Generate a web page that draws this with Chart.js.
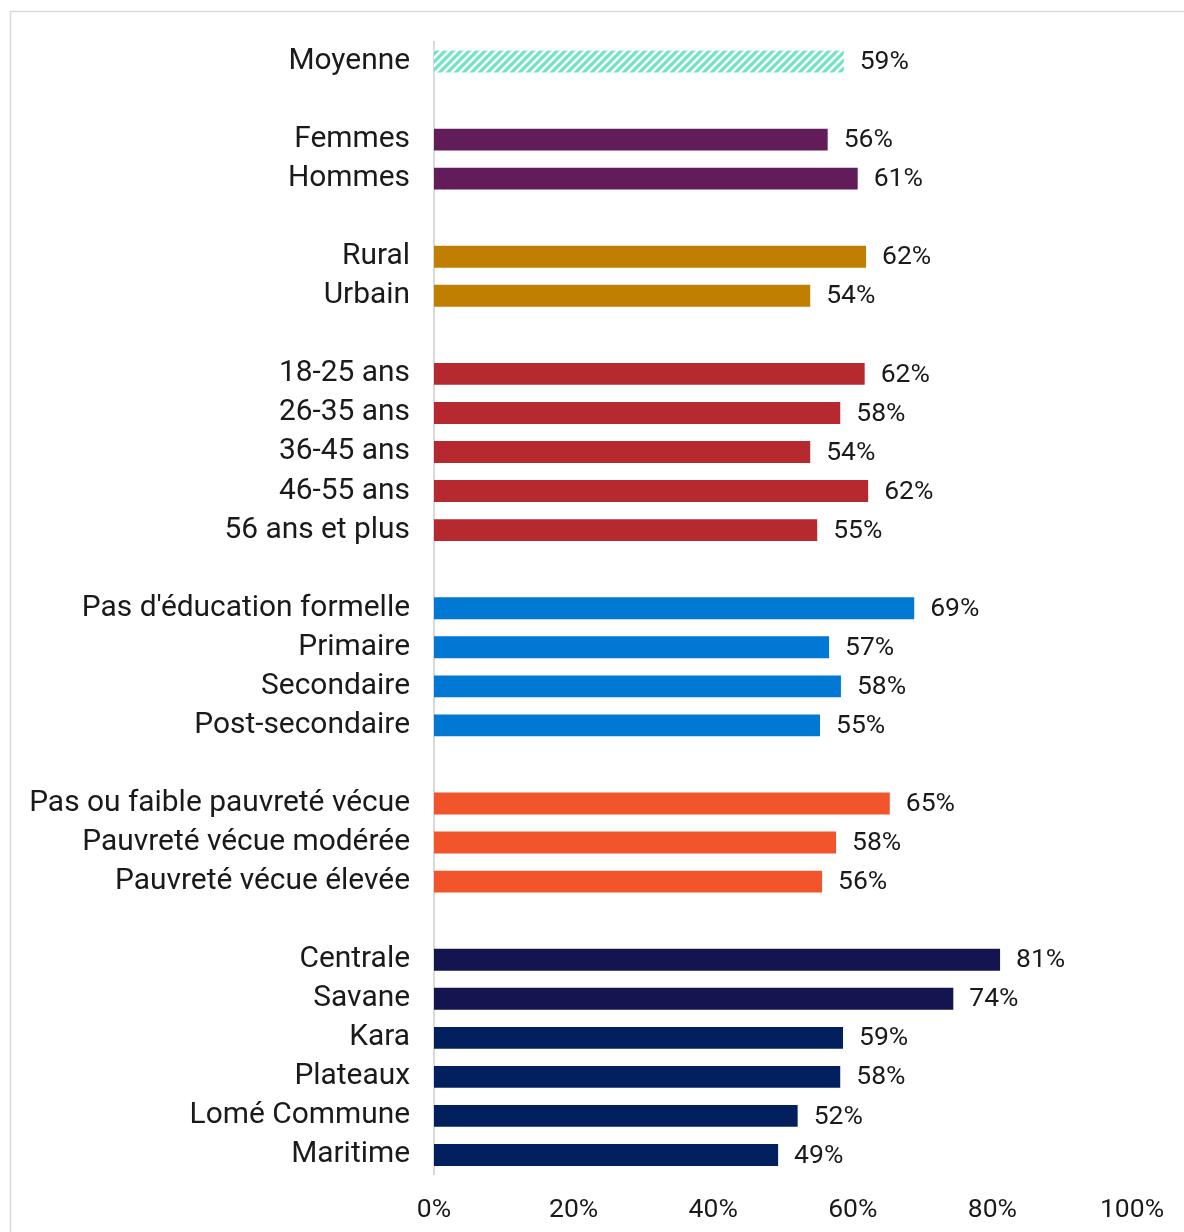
<!DOCTYPE html>
<html>
<head>
<meta charset="utf-8">
<script src="https://cdn.jsdelivr.net/npm/chart.js@4.4.1/dist/chart.umd.min.js"></script>
<style>
  html, body { margin: 0; padding: 0; background: #ffffff; }
  #wrap { position: absolute; left: 0; top: 0; width: 1184px; height: 1232px; }
</style>
</head>
<body>
<div id="wrap"><canvas id="c" width="1184" height="1232"></canvas></div>
<script>
// ---- Data ----
const categories = [
  'Moyenne', '',
  'Femmes', 'Hommes', '',
  'Rural', 'Urbain', '',
  '18-25 ans', '26-35 ans', '36-45 ans', '46-55 ans', '56 ans et plus', '',
  "Pas d'éducation formelle", 'Primaire', 'Secondaire', 'Post-secondaire', '',
  'Pas ou faible pauvreté vécue', 'Pauvreté vécue modérée', 'Pauvreté vécue élevée', '',
  'Centrale', 'Savane', 'Kara', 'Plateaux', 'Lomé Commune', 'Maritime'
];
const values = [
  58.7, null,
  56.4, 60.7, null,
  61.9, 53.9, null,
  61.7, 58.2, 53.9, 62.2, 54.9, null,
  68.8, 56.6, 58.3, 55.3, null,
  65.3, 57.6, 55.6, null,
  81.1, 74.4, 58.6, 58.2, 52.1, 49.3
];
const valueLabels = [
  '59%', '',
  '56%', '61%', '',
  '62%', '54%', '',
  '62%', '58%', '54%', '62%', '55%', '',
  '69%', '57%', '58%', '55%', '',
  '65%', '58%', '56%', '',
  '81%', '74%', '59%', '58%', '52%', '49%'
];
const xTickLabels = ['0%', '20%', '40%', '60%', '80%', '100%'];

// ---- Styles ----
const FONT_FAMILY = 'Roboto, "DejaVu Sans", sans-serif';
const NUM_FAMILY = 'Roboto, "DejaVu Sans", sans-serif';
const TEXT_COLOR = '#1a1a1a';
const groupColors = {
  avg: '#72e4c5', gender: '#621C59', area: '#C07F00', age: '#B5292F',
  edu: '#0078D4', pov: '#F2542B', regA: '#141450', regB: '#03205E'
};
const colorKeys = [
  'avg', null,
  'gender', 'gender', null,
  'area', 'area', null,
  'age', 'age', 'age', 'age', 'age', null,
  'edu', 'edu', 'edu', 'edu', null,
  'pov', 'pov', 'pov', null,
  'regA', 'regA', 'regB', 'regB', 'regB', 'regB'
];

// size fonts so text widths match the reference
const mctx = document.createElement('canvas').getContext('2d');
mctx.font = '24px ' + FONT_FAMILY;
const FONT_SIZE = Math.round(24 * 381 / mctx.measureText('Pas ou faible pauvreté vécue').width * 10) / 10;
mctx.font = '24px ' + NUM_FAMILY;
const NUM_SIZE = Math.round(24 * 64 / mctx.measureText('100%').width * 10) / 10;

// hatched pattern for the average bar
function makeHatch(color) {
  const s = 8;
  const pc = document.createElement('canvas');
  pc.width = s; pc.height = s;
  const p = pc.getContext('2d');
  p.fillStyle = '#ffffff';
  p.fillRect(0, 0, s, s);
  p.strokeStyle = color;
  p.lineWidth = 3.2;
  p.beginPath();
  p.moveTo(-2, s + 2); p.lineTo(s + 2, -2);
  p.moveTo(-2 - s, s + 2); p.lineTo(2, -2);
  p.moveTo(s - 2, s + 2); p.lineTo(s + s + 2, -2);
  p.stroke();
  return mctx.createPattern(pc, 'repeat');
}
const hatch = makeHatch(groupColors.avg);
const barColors = colorKeys.map(k => k === 'avg' ? hatch : (k ? groupColors[k] : 'rgba(0,0,0,0)'));

const frameAndLabels = {
  id: 'frameAndLabels',
  beforeDraw(chart) {
    const ctx = chart.ctx;
    ctx.save();
    ctx.fillStyle = '#ffffff';
    ctx.fillRect(0, 0, chart.width, chart.height);
    ctx.strokeStyle = '#d9d9d9';
    ctx.lineWidth = 1.5;
    ctx.strokeRect(10.5, 11.5, 1400, 1400);
    ctx.restore();
  },
  afterDatasetsDraw(chart) {
    const ctx = chart.ctx;
    const meta = chart.getDatasetMeta(0);
    ctx.save();
    ctx.font = NUM_SIZE + 'px ' + NUM_FAMILY;
    ctx.fillStyle = TEXT_COLOR;
    ctx.textAlign = 'left';
    ctx.textBaseline = 'middle';
    meta.data.forEach((bar, i) => {
      if (values[i] == null) return;
      ctx.fillText(valueLabels[i], bar.x + 16, bar.y + 1);
    });
    ctx.restore();
  }
};

new Chart(document.getElementById('c'), {
  type: 'bar',
  data: {
    labels: categories,
    datasets: [{
      data: values,
      backgroundColor: barColors,
      borderWidth: 0,
      categoryPercentage: 1.0,
      barPercentage: 0.56
    }]
  },
  options: {
    indexAxis: 'y',
    responsive: false,
    animation: false,
    devicePixelRatio: 1,
    layout: { padding: { left: 0, right: 52, top: 41.5, bottom: 0 } },
    plugins: { legend: { display: false }, tooltip: { enabled: false } },
    scales: {
      x: {
        min: 0, max: 100,
        ticks: {
          stepSize: 20,
          color: TEXT_COLOR,
          font: { family: NUM_FAMILY, size: NUM_SIZE },
          padding: 20,
          maxRotation: 0,
          callback: (v, i) => xTickLabels[i]
        },
        grid: { display: false, drawTicks: false },
        border: { display: false },
        afterFit(scale) { scale.height = 57.5; scale.paddingRight = 0; scale.paddingLeft = 0; }
      },
      y: {
        ticks: {
          color: TEXT_COLOR,
          font: { family: FONT_FAMILY, size: FONT_SIZE },
          padding: 24,
          autoSkip: false
        },
        grid: { display: false, drawTicks: false },
        border: { display: true, color: '#d9d9d9', width: 2 },
        afterFit(scale) { scale.width = 434; }
      }
    }
  },
  plugins: [frameAndLabels]
});
</script>
</body>
</html>
